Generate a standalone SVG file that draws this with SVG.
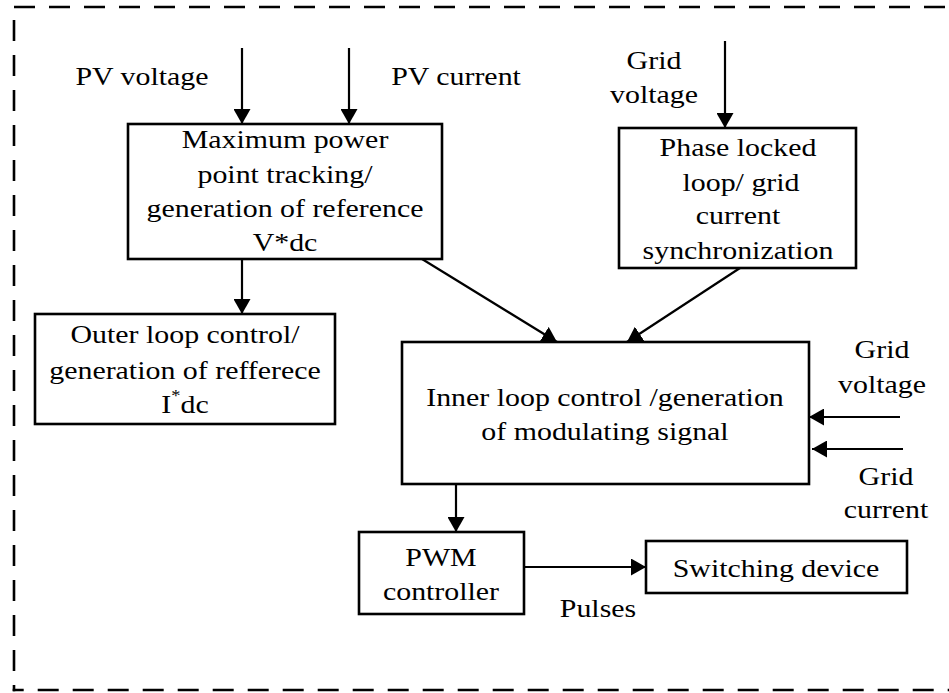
<svg xmlns="http://www.w3.org/2000/svg" width="949" height="693" viewBox="0 0 949 693">
<style>
text{font-size:26px;fill:#000;text-anchor:middle}
.box{fill:#fff;stroke:#000;stroke-width:2.6}
.c{fill:none;stroke:#000;stroke-width:2.2}
.frame{fill:none;stroke:#000;stroke-width:2.6;stroke-dasharray:21,14}
</style>
<defs>
<marker id="ah" markerUnits="userSpaceOnUse" markerWidth="16" markerHeight="17" refX="15" refY="8.5" orient="auto">
<path d="M0,0 L15,8.5 L0,17 z" fill="#000"/>
</marker>
</defs>
<rect x="0" y="0" width="949" height="693" fill="#fff"/>
<g id="frame">
<line class="frame" x1="14" y1="7" x2="949" y2="7"/>
<line class="frame" x1="14" y1="20" x2="14" y2="691.3"/>
<line class="frame" x1="12.7" y1="690" x2="949" y2="690" stroke-dashoffset="10"/>
</g>
<g id="connectors">
<path class="c" d="M242,48 V124" marker-end="url(#ah)"/>
<path class="c" d="M349,48 V124" marker-end="url(#ah)"/>
<path class="c" d="M725,41 V128" marker-end="url(#ah)"/>
<path class="c" d="M242,259 V314" marker-end="url(#ah)"/>
<path class="c" d="M422,259 L557,342" marker-end="url(#ah)"/>
<path class="c" d="M740,268 L627,342" marker-end="url(#ah)"/>
<path class="c" d="M900,417 H809" marker-end="url(#ah)"/>
<path class="c" d="M903,449 H812" marker-end="url(#ah)"/>
<path class="c" d="M456,484 V532" marker-end="url(#ah)"/>
<path class="c" d="M524,567 H646" marker-end="url(#ah)"/>
</g>
<g font-family="Liberation Serif" font-size="26">
<g id="labels">
<text font-family="Liberation Serif" transform="translate(142,85) scale(1.15,1)">PV voltage</text>
<text font-family="Liberation Serif" transform="translate(456,85) scale(1.15,1)">PV current</text>
<text font-family="Liberation Serif" transform="translate(654,69) scale(1.15,1)">Grid</text>
<text font-family="Liberation Serif" transform="translate(654,103) scale(1.15,1)">voltage</text>
<text font-family="Liberation Serif" transform="translate(882,358) scale(1.15,1)">Grid</text>
<text font-family="Liberation Serif" transform="translate(882,393) scale(1.15,1)">voltage</text>
<text font-family="Liberation Serif" transform="translate(886,485) scale(1.15,1)">Grid</text>
<text font-family="Liberation Serif" transform="translate(886,518) scale(1.15,1)">current</text>
<text font-family="Liberation Serif" transform="translate(598,617) scale(1.15,1)">Pulses</text>
</g>
<g id="mppt">
<rect class="box" x="128" y="124" width="314" height="135"/>
<text font-family="Liberation Serif" transform="translate(285,148) scale(1.15,1)">Maximum power</text>
<text font-family="Liberation Serif" transform="translate(285,183) scale(1.15,1)">point tracking/</text>
<text font-family="Liberation Serif" transform="translate(285,217) scale(1.15,1)">generation of reference</text>
<text font-family="Liberation Serif" transform="translate(285,251) scale(1.15,1)">V*dc</text>
</g>
<g id="pll">
<rect class="box" x="619" y="128" width="237" height="140"/>
<text font-family="Liberation Serif" transform="translate(738,156) scale(1.15,1)">Phase locked</text>
<text font-family="Liberation Serif" transform="translate(741,191) scale(1.15,1)">loop/ grid</text>
<text font-family="Liberation Serif" transform="translate(738,224) scale(1.15,1)">current</text>
<text font-family="Liberation Serif" transform="translate(738,259) scale(1.15,1)">synchronization</text>
</g>
<g id="outer">
<rect class="box" x="35" y="314" width="300" height="110"/>
<text font-family="Liberation Serif" transform="translate(185,343) scale(1.15,1)">Outer loop control/</text>
<text font-family="Liberation Serif" transform="translate(185,379) scale(1.15,1)">generation of refferece</text>
<text font-family="Liberation Serif" transform="translate(185,413) scale(1.15,1)">I<tspan font-size="16" dy="-12">*</tspan><tspan dy="12">dc</tspan></text>
</g>
<g id="inner">
<rect class="box" x="402" y="342" width="407" height="142"/>
<text font-family="Liberation Serif" transform="translate(605,406) scale(1.15,1)">Inner loop control /generation</text>
<text font-family="Liberation Serif" transform="translate(605,440) scale(1.15,1)">of modulating signal</text>
</g>
<g id="pwm">
<rect class="box" x="359" y="532" width="165" height="82"/>
<text font-family="Liberation Serif" transform="translate(441,566) scale(1.15,1)">PWM</text>
<text font-family="Liberation Serif" transform="translate(441,600) scale(1.15,1)">controller</text>
</g>
<g id="switch">
<rect class="box" x="646" y="541" width="261" height="52"/>
<text font-family="Liberation Serif" transform="translate(776,577) scale(1.15,1)">Switching device</text>
</g>
</g>
</svg>
